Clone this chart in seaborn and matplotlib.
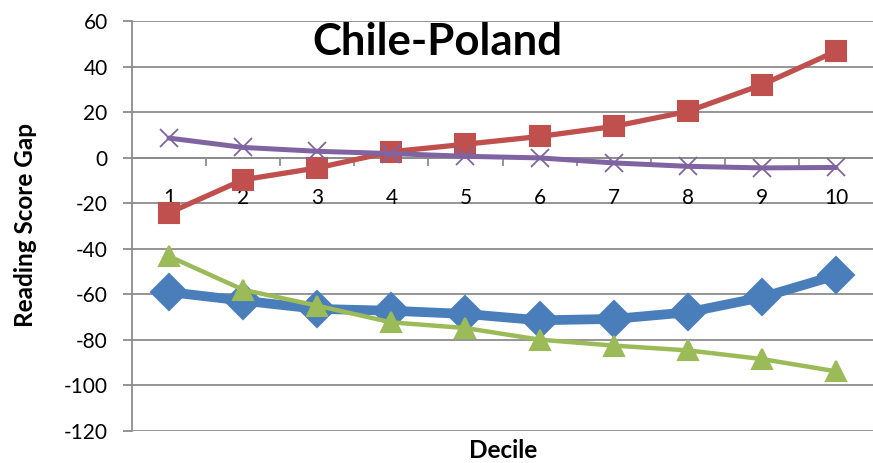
import numpy as np
import pandas as pd
import matplotlib
matplotlib.use("Agg")
import matplotlib.pyplot as plt
import seaborn as sns

deciles = [1, 2, 3, 4, 5, 6, 7, 8, 9, 10]
series_blue = [-59, -62.8, -66.4, -67.2, -68.6, -71.4, -70.8, -67.9, -61.3, -51.7]
series_red = [-24.2, -9.7, -4.5, 2.6, 5.9, 9.3, 13.7, 20.3, 32, 46.7]
series_green = [-43.3, -58, -65, -72.3, -74.8, -79.9, -82.5, -84.6, -88.4, -93.8]
series_purple = [8.6, 4.5, 2.8, 1.8, 0.6, -0.1, -2.3, -3.8, -4.5, -4.3]
y_ticks = [60, 40, 20, 0, -20, -40, -60, -80, -100, -120]

sns.set_theme(style="white")
plt.rcParams["font.family"] = ["Lato", "DejaVu Sans"]
plt.rcParams["text.color"] = "black"

fig = plt.figure(figsize=(8.73, 4.63), dpi=100)
ax = fig.add_axes([132 / 873, 1 - 431 / 463, 741 / 873, 410 / 463])

grid_c = "#8c8c8c"
for v in y_ticks:
    ax.axhline(v, color=grid_c, lw=1.3, zorder=0)

styles = [
    (series_blue, "#4a7ebb", "D", 7.0, 18),
    (series_red, "#c0504d", "s", 3.8, 14),
    (series_green, "#9bbb59", "^", 3.2, 15),
    (series_purple, "#8064a2", "x", 3.6, 13),
]
for vals, col, mk, lw, ms in styles:
    df = pd.DataFrame({"Decile": deciles, "Gap": vals})
    sns.lineplot(data=df, x="Decile", y="Gap", ax=ax, color=col, lw=lw,
                 marker=mk, markersize=ms, markeredgecolor=col,
                 markerfacecolor=col, markeredgewidth=1.5 if mk != "x" else 1.3,
                 zorder=3)

ax.set_xlim(0.5, 10.5)
ax.set_ylim(-120, 60)
ax.set_yticks(y_ticks)
ax.set_yticklabels([str(v) for v in y_ticks], fontsize=15, color="black")

# horizontal axis drawn across y = 0, labels hanging below it
ax.spines["bottom"].set_position(("data", 0))
for s in ["top", "right"]:
    ax.spines[s].set_visible(False)
ax.spines["bottom"].set_color(grid_c)
ax.spines["bottom"].set_linewidth(1.3)
ax.spines["left"].set_color(grid_c)
ax.spines["left"].set_linewidth(1.3)

ax.set_xticks(deciles)
ax.set_xticklabels([str(d) for d in deciles], fontsize=15, color="black")
ax.set_xticks(np.arange(1.5, 10.5, 1), minor=True)
ax.tick_params(axis="x", which="major", length=0, pad=22)
ax.tick_params(axis="x", which="minor", length=6, width=1.3, color=grid_c,
               direction="out", bottom=True)
ax.tick_params(axis="y", length=6.5, width=1.3, color=grid_c, direction="out",
               left=True, pad=11)

ax.set_xlabel("")
ax.set_ylabel("")
fig.text(26 / 873, 1 - 225 / 463, "Reading Score Gap", rotation=90,
         fontsize=17.5, fontweight="bold", ha="center", va="center",
         color="black")
fig.text(503 / 873, 1 - 451 / 463, "Decile", fontsize=17.5,
         fontweight="bold", ha="center", va="center", color="black")
fig.text(437 / 873, 1 - 42 / 463, "Chile-Poland", fontsize=31.5,
         fontweight="bold", ha="center", va="center", color="black")

fig.savefig("out.png", dpi=100, facecolor="white")
